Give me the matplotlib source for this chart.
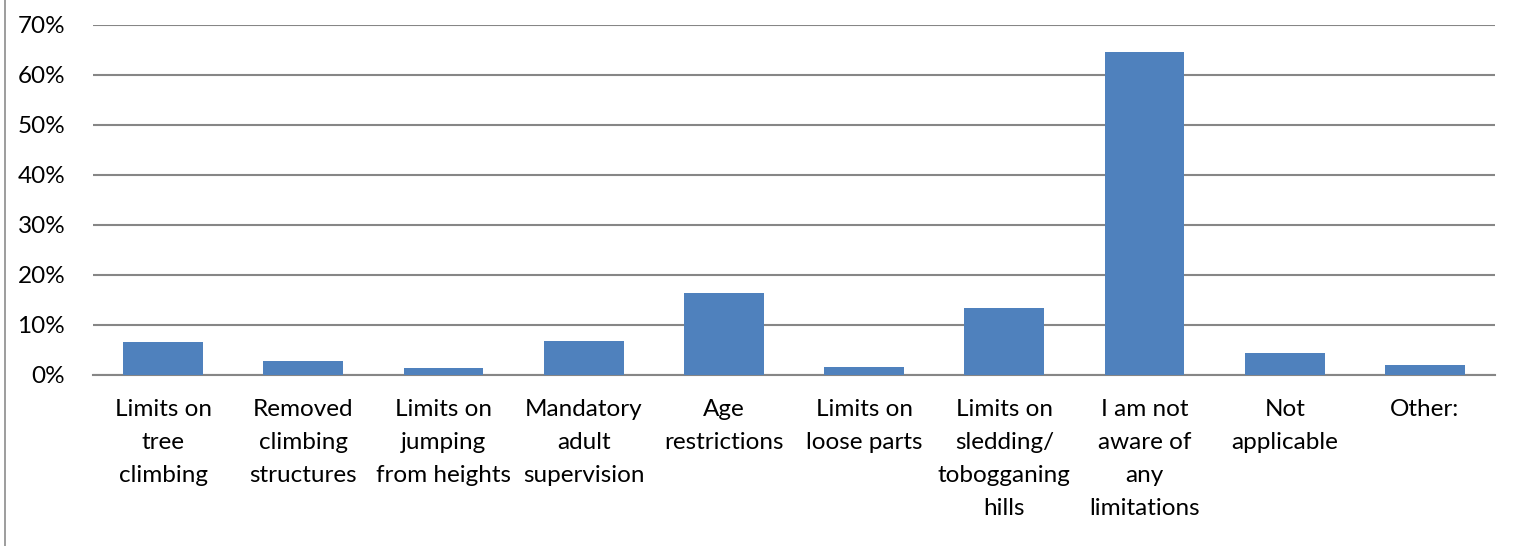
import matplotlib.pyplot as plt
from matplotlib.lines import Line2D
from matplotlib.ticker import FuncFormatter

categories = [
    "Limits on\ntree\nclimbing",
    "Removed\nclimbing\nstructures",
    "Limits on\njumping\nfrom heights",
    "Mandatory\nadult\nsupervision",
    "Age\nrestrictions",
    "Limits on\nloose parts",
    "Limits on\nsledding/\ntobogganing\nhills",
    "I am not\naware of\nany\nlimitations",
    "Not\napplicable",
    "Other:",
]
values = [6.5, 2.7, 1.3, 6.7, 16.4, 1.6, 13.4, 64.5, 4.3, 1.9]
y_ticks = [0, 10, 20, 30, 40, 50, 60, 70]

plt.rcParams['font.family'] = ['Lato', 'DejaVu Sans']

fig = plt.figure(figsize=(15.21, 5.46), dpi=100)
ax = fig.add_axes([93 / 1521, 1 - 374.5 / 546, (1495 - 93) / 1521, 350 / 546])

x = range(len(categories))
ax.bar(x, values, width=0.57, color='#4F81BD', zorder=3)

ax.set_xlim(-0.5, len(categories) - 0.5)
ax.set_ylim(0, 70)
ax.set_yticks(y_ticks)
ax.yaxis.set_major_formatter(FuncFormatter(lambda v, p: f"{v:.0f}%"))
ax.grid(axis='y', color='#868686', linewidth=1.5, zorder=0)
ax.set_axisbelow(True)

ax.set_xticks(list(x))
ax.set_xticklabels(categories, fontsize=17.5, linespacing=1.7, va='top')
for lab in ax.get_yticklabels():
    lab.set_fontsize(17.5)
ax.tick_params(axis='x', length=0, pad=18)
ax.tick_params(axis='y', length=0, pad=20)

for s in ['top', 'right', 'left']:
    ax.spines[s].set_visible(False)
ax.spines['bottom'].set_color('#868686')
ax.spines['bottom'].set_linewidth(1.5)

# outer chart border on the left
fig.add_artist(Line2D([5 / 1521, 5 / 1521], [0, 1], transform=fig.transFigure,
                      color='#8c8c8c', linewidth=1.2))

fig.savefig('out.png', dpi=100, facecolor='white')
